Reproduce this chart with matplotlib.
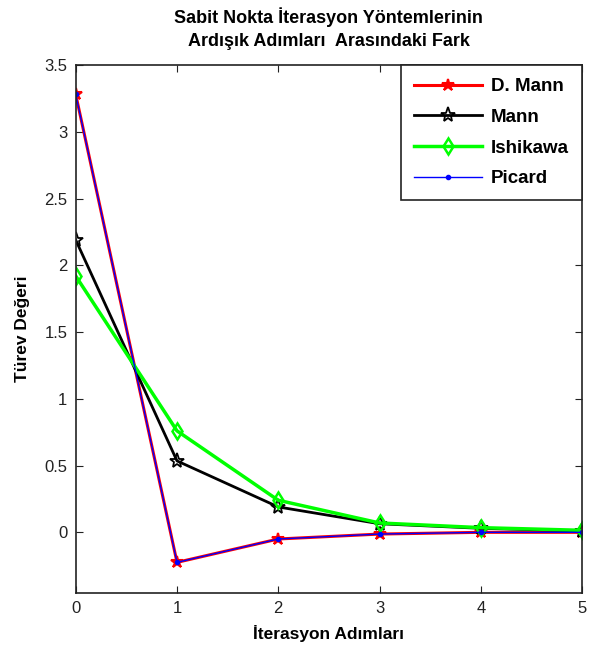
import matplotlib
matplotlib.use("Agg")
import matplotlib.pyplot as plt

plt.rcParams["font.family"] = ["Liberation Sans", "DejaVu Sans"]

steps = [0, 1, 2, 3, 4, 5]
d_mann = [3.28, -0.225, -0.05, -0.013, 0.0, 0.0]
mann = [2.19, 0.535, 0.19, 0.064, 0.03, 0.01]
ishikawa = [1.92, 0.76, 0.24, 0.07, 0.035, 0.015]
picard = [3.28, -0.225, -0.05, -0.013, 0.0, 0.0]

fig = plt.figure(figsize=(5.94, 6.51), dpi=100)
ax = fig.add_axes([0.1275, 0.089, 0.8525, 0.811])

ax.plot(steps, d_mann, color="red", lw=2.2, marker="*", ms=9, mew=1.5, label="D. Mann")
ax.plot(steps, mann, color="black", lw=2, marker="*", ms=11, mfc="none", mew=1.3, label="Mann")
ax.plot(steps, ishikawa, color="#00ff00", lw=2.5, marker="d", ms=8, mfc="none", mew=1.8, label="Ishikawa")
ax.plot(steps, picard, color="blue", lw=1, marker=".", ms=6, label="Picard")

ax.set_xlim(0, 5)
ax.set_ylim(-0.455, 3.5)
ax.set_xticks(steps)
ax.set_yticks([0, 0.5, 1, 1.5, 2, 2.5, 3, 3.5])
ax.set_yticklabels(["0", "0.5", "1", "1.5", "2", "2.5", "3", "3.5"])
ax.tick_params(direction="in", top=True, right=True, labelsize=12, length=5, colors="#222222", pad=6)
for s in ax.spines.values():
    s.set_linewidth(1.2)
    s.set_color("#222222")

ax.set_xlabel("İterasyon Adımları", fontsize=12.5, fontweight="bold", labelpad=6)
ax.set_ylabel("Türev Değeri", fontsize=12.5, fontweight="bold", labelpad=10)
ax.set_title("Sabit Nokta İterasyon Yöntemlerinin\nArdışık Adımları  Arasındaki Fark",
             fontsize=13, fontweight="bold", pad=14, linespacing=1.4)

leg = ax.legend(loc="upper right", prop={"weight": "bold", "size": 13.5},
                fancybox=False, framealpha=1, edgecolor="#222222", borderaxespad=0,
                handlelength=3.6, handletextpad=0.5, labelspacing=0.72, borderpad=0.7)
leg.get_frame().set_linewidth(1.2)

fig.savefig("out.png", dpi=100)
